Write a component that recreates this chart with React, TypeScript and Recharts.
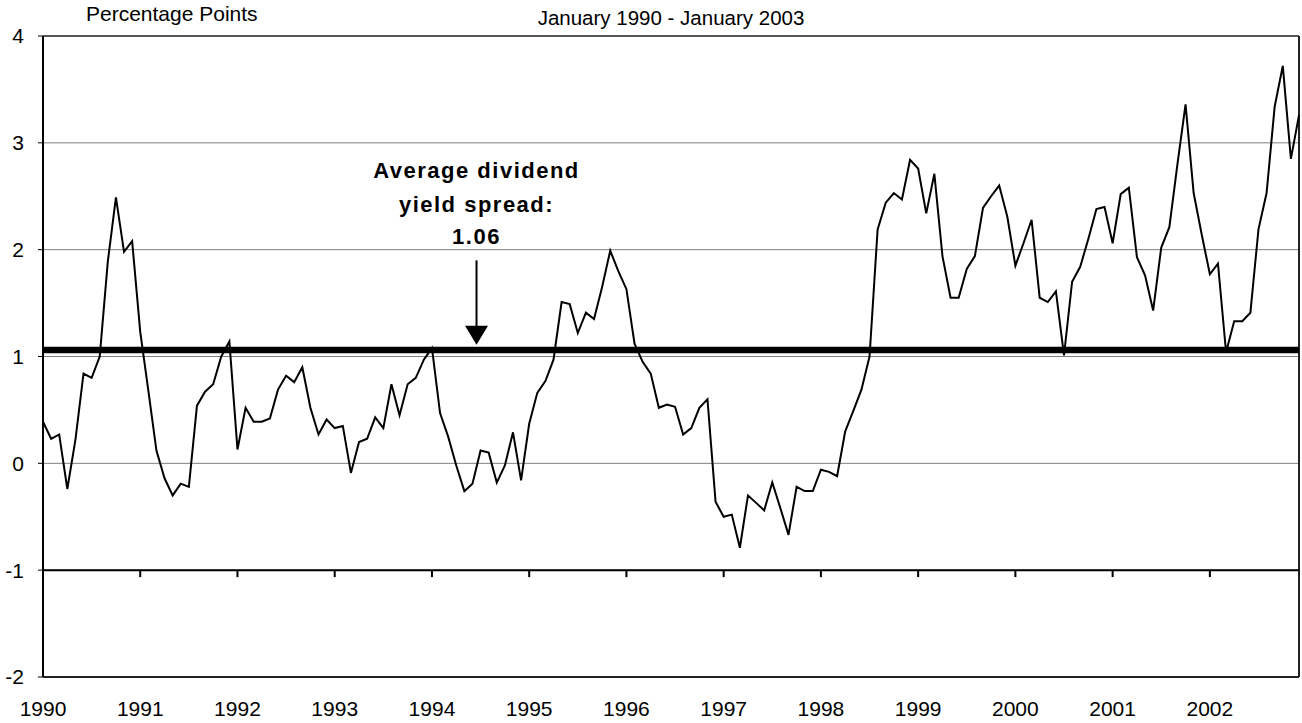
import { LineChart, Line, XAxis, YAxis, CartesianGrid, ReferenceLine } from 'recharts';

// monthly spread, Jan 1990 .. Dec 2002 (percentage points)
const spread = [
  0.39, 0.23, 0.27, -0.24, 0.22, 0.84, 0.8, 1.0, 1.89, 2.49, 1.98, 2.08,
  1.23, 0.68, 0.12, -0.14, -0.3, -0.19, -0.22, 0.54, 0.67, 0.74, 1.0, 1.14,
  0.13, 0.52, 0.39, 0.39, 0.42, 0.69, 0.82, 0.76, 0.9, 0.52, 0.27, 0.41,
  0.33, 0.35, -0.09, 0.2, 0.23, 0.43, 0.33, 0.74, 0.45, 0.74, 0.8, 0.97,
  1.08, 0.47, 0.25, -0.02, -0.26, -0.19, 0.12, 0.1, -0.18, -0.02, 0.29, -0.16,
  0.37, 0.66, 0.77, 0.97, 1.51, 1.49, 1.22, 1.41, 1.35, 1.65, 1.99, 1.8,
  1.63, 1.12, 0.95, 0.84, 0.52, 0.55, 0.53, 0.27, 0.33, 0.52, 0.6, -0.36,
  -0.5, -0.48, -0.79, -0.3, -0.37, -0.44, -0.18, -0.42, -0.67, -0.22, -0.26, -0.26,
  -0.06, -0.08, -0.12, 0.3, 0.49, 0.69, 1.0, 2.19, 2.44, 2.53, 2.47, 2.84,
  2.76, 2.34, 2.71, 1.94, 1.55, 1.55, 1.82, 1.94, 2.39, 2.5, 2.6, 2.31,
  1.85, 2.06, 2.28, 1.55, 1.51, 1.61, 1.01, 1.7, 1.84, 2.1, 2.38, 2.4,
  2.06, 2.52, 2.58, 1.93, 1.76, 1.43, 2.02, 2.21, 2.8, 3.36, 2.53, 2.14,
  1.77, 1.87, 1.04, 1.33, 1.33, 1.41, 2.19, 2.53, 3.34, 3.72, 2.85, 3.26,
];

const yearLabels = ['1990', '1991', '1992', '1993', '1994', '1995', '1996', '1997', '1998', '1999', '2000', '2001', '2002'];
const yearTicks = yearLabels.map((_, i) => i * 12);
const yTicks = [-2, -1, 0, 1, 2, 3, 4];

const avgSpread = 1.06;
const noteLines = ['Average dividend', 'yield spread:', '1.06'];
const arrowX = 53.5;
const arrowTop = 1.9;
const arrowTip = 1.11;

const data = spread.map((v, m) => ({ m, v }));

const FONT = '"Liberation Sans", Arial, sans-serif';

function ArrowNote(props: any) {
  const { x1, y1, x2, y2 } = props;
  const baselines = [-82, -48, -16];
  return (
    <g>
      <line x1={x1} y1={y1} x2={x2} y2={y2 - 18} stroke="#000" strokeWidth={2} />
      <polygon points={`${x2 - 11.5},${y2 - 19} ${x2 + 11.5},${y2 - 19} ${x2},${y2}`} fill="#000" />
      {noteLines.map((t, i) => (
        <text key={i} x={x1} y={y1 + baselines[i]} textAnchor="middle" fontFamily={FONT} fontSize={22}
          fontWeight="bold" letterSpacing={1.5} fill="#000">{t}</text>
      ))}
    </g>
  );
}

export default function App() {
  return (
    <div style={{ position: 'absolute', left: 0, top: 0, width: 1302, height: 723, background: '#fff', fontFamily: FONT }}>
      <div style={{ position: 'absolute', left: 86, top: 3, fontSize: 21, lineHeight: '22px', color: '#000' }}>Percentage Points</div>
      <div style={{ position: 'absolute', left: 0, width: 1342, top: 7, textAlign: 'center', fontSize: 20.5, lineHeight: '22px', color: '#000' }}>
        January 1990 - January 2003
      </div>
      <LineChart width={1302} height={723} data={data} margin={{ top: 36, right: 3, left: 0, bottom: 0 }}>
        <CartesianGrid vertical={false} stroke="#808080" strokeWidth={1} />
        <XAxis dataKey="m" type="number" domain={[0, 155]} ticks={yearTicks} interval={0}
          tickFormatter={(m: number) => yearLabels[m / 12]} height={46}
          tickLine={false} tickSize={6} tickMargin={18}
          axisLine={{ stroke: '#222', strokeWidth: 2 }}
          tick={{ fill: '#000', fontSize: 21, fontFamily: FONT }} />
        <YAxis domain={[-2, 4]} ticks={yTicks} interval={0} width={43}
          tickSize={5} tickMargin={14}
          tickLine={{ stroke: '#000', strokeWidth: 1 }}
          axisLine={{ stroke: '#000', strokeWidth: 2 }}
          tick={{ fill: '#000', fontSize: 21, fontFamily: FONT }} />
        <ReferenceLine y={4} stroke="#333" strokeWidth={1.5} />
        <ReferenceLine x={155} stroke="#222" strokeWidth={2} />
        <ReferenceLine y={-1} stroke="#000" strokeWidth={2} />
        {yearTicks.slice(1).map((x) => (
          <ReferenceLine key={x} segment={[{ x, y: -1 }, { x, y: -1.065 }]} stroke="#000" strokeWidth={2} />
        ))}
        <Line type="linear" dataKey="v" stroke="#000" strokeWidth={2} dot={false} isAnimationActive={false} />
        <ReferenceLine y={avgSpread} stroke="#000" strokeWidth={6.5} />
        <ReferenceLine segment={[{ x: arrowX, y: arrowTop }, { x: arrowX, y: arrowTip }]} shape={ArrowNote} />
      </LineChart>
    </div>
  );
}
